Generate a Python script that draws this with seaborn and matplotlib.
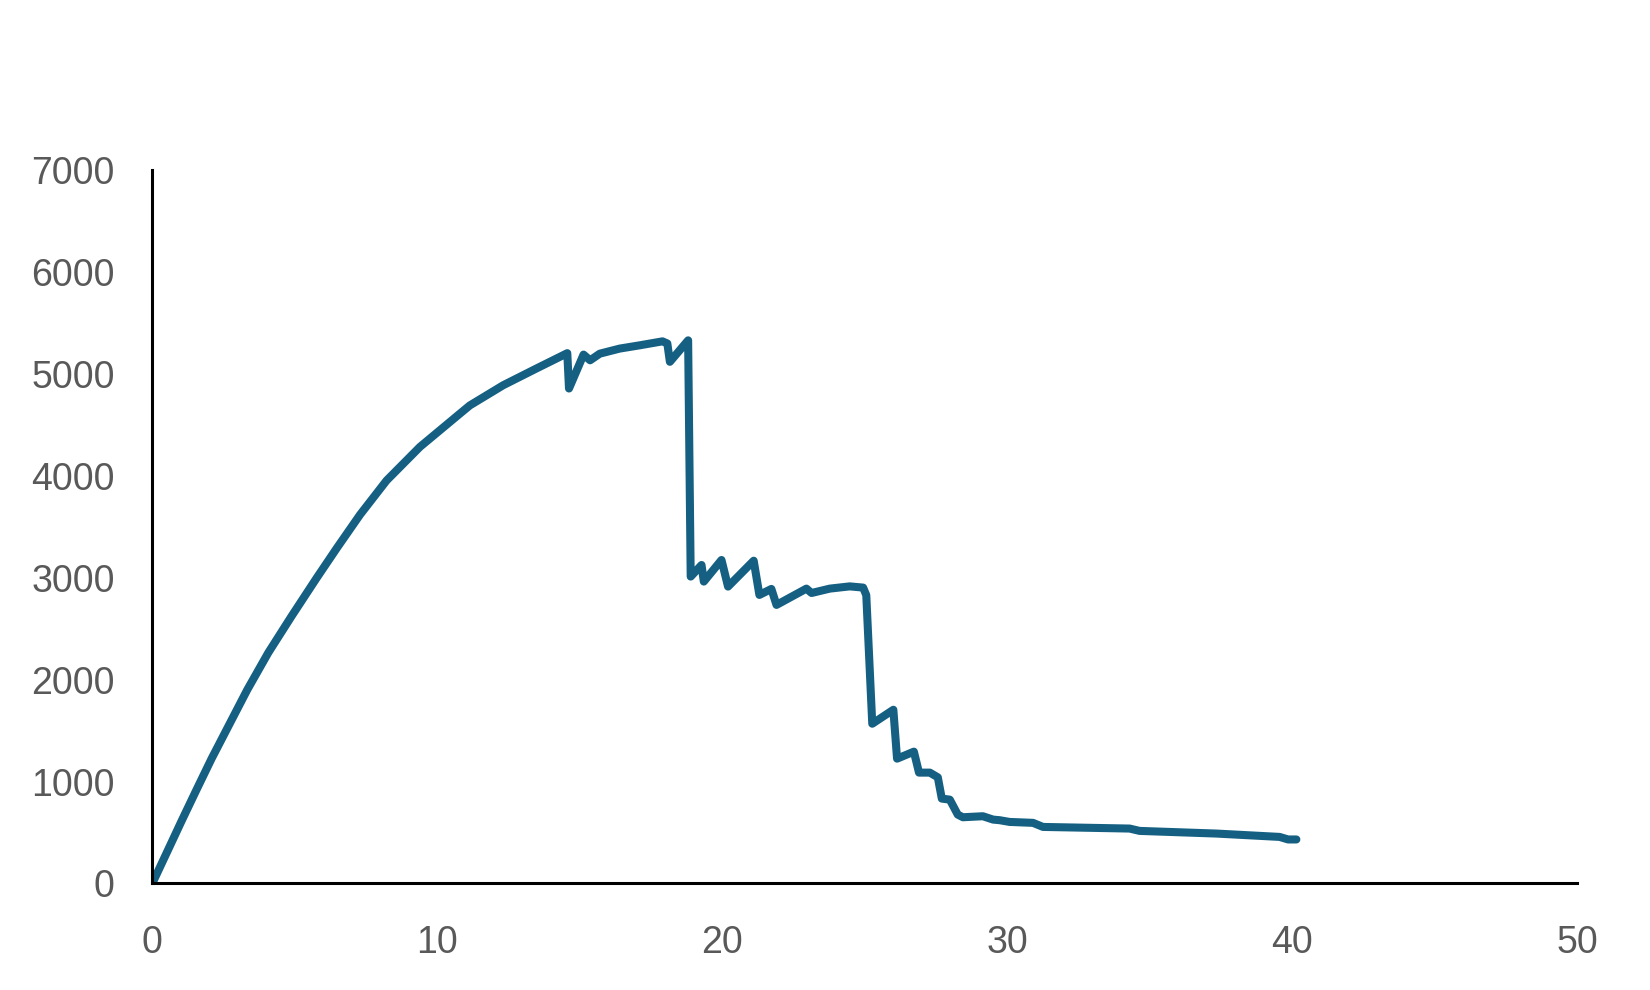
import pandas as pd
import seaborn as sns
import matplotlib.pyplot as plt

# values
x_vals = [0, 0.52, 1.03, 1.56, 2.08, 2.70, 3.33, 4.07, 4.89, 5.77, 6.47, 7.29,
          8.22, 9.39, 10.79, 11.14, 12.31, 13.48, 14.56, 14.62, 15.13, 15.36,
          15.7, 16.4, 17.1, 17.9, 18.07, 18.16, 18.8, 18.89, 19.27, 19.35,
          19.97, 20.2, 21.1, 21.3, 21.72, 21.9, 22.95, 23.13, 23.77, 24.47,
          24.94, 25.05, 25.26, 26.0, 26.13, 26.72, 26.9, 27.28, 27.56, 27.7,
          27.98, 28.26, 28.44, 29.14, 29.5, 29.73, 30.08, 30.9, 31.25, 34.29,
          34.64, 37.33, 39.55, 39.85, 40.14]
y_vals = [0, 310, 615, 925, 1225, 1560, 1900, 2265, 2625, 3000, 3290, 3620,
          3955, 4285, 4611, 4692, 4890, 5055, 5205, 4858, 5191, 5135,
          5200, 5250, 5282, 5321, 5300, 5120, 5331, 3012, 3126, 2963,
          3175, 2914, 3168, 2832, 2891, 2734, 2894, 2851, 2894, 2916,
          2904, 2830, 1568, 1705, 1225, 1294, 1088, 1088, 1042, 833,
          823, 676, 650, 660, 627, 621, 604, 595, 555, 539,
          516, 490, 457, 432, 432]
x_ticks = [0, 10, 20, 30, 40, 50]
y_ticks = [0, 1000, 2000, 3000, 4000, 5000, 6000, 7000]

df = pd.DataFrame({"x": x_vals, "y": y_vals})

sns.set_style("white")
plt.rcParams["font.family"] = ["Liberation Sans", "DejaVu Sans"]

fig = plt.figure(figsize=(16.5, 9.9), dpi=100)
ax = fig.add_axes([0.0923, 0.1076, 0.8637, 0.7204])

sns.lineplot(data=df, x="x", y="y", ax=ax, sort=False, estimator=None,
             color="#156082", linewidth=5.8,
             solid_capstyle="round", solid_joinstyle="round")

ax.set_xlim(0, 50)
ax.set_ylim(0, 7000)
ax.set_xticks(x_ticks)
ax.set_yticks(y_ticks)
ax.set_xlabel("")
ax.set_ylabel("")
ax.tick_params(axis="both", length=0, labelsize=27, labelcolor="#595959")
ax.tick_params(axis="y", pad=27)
ax.tick_params(axis="x", pad=30)

for side in ["top", "right"]:
    ax.spines[side].set_visible(False)
for side in ["left", "bottom"]:
    ax.spines[side].set_color("black")
    ax.spines[side].set_linewidth(2.2)

plt.savefig("out.png", dpi=100)
